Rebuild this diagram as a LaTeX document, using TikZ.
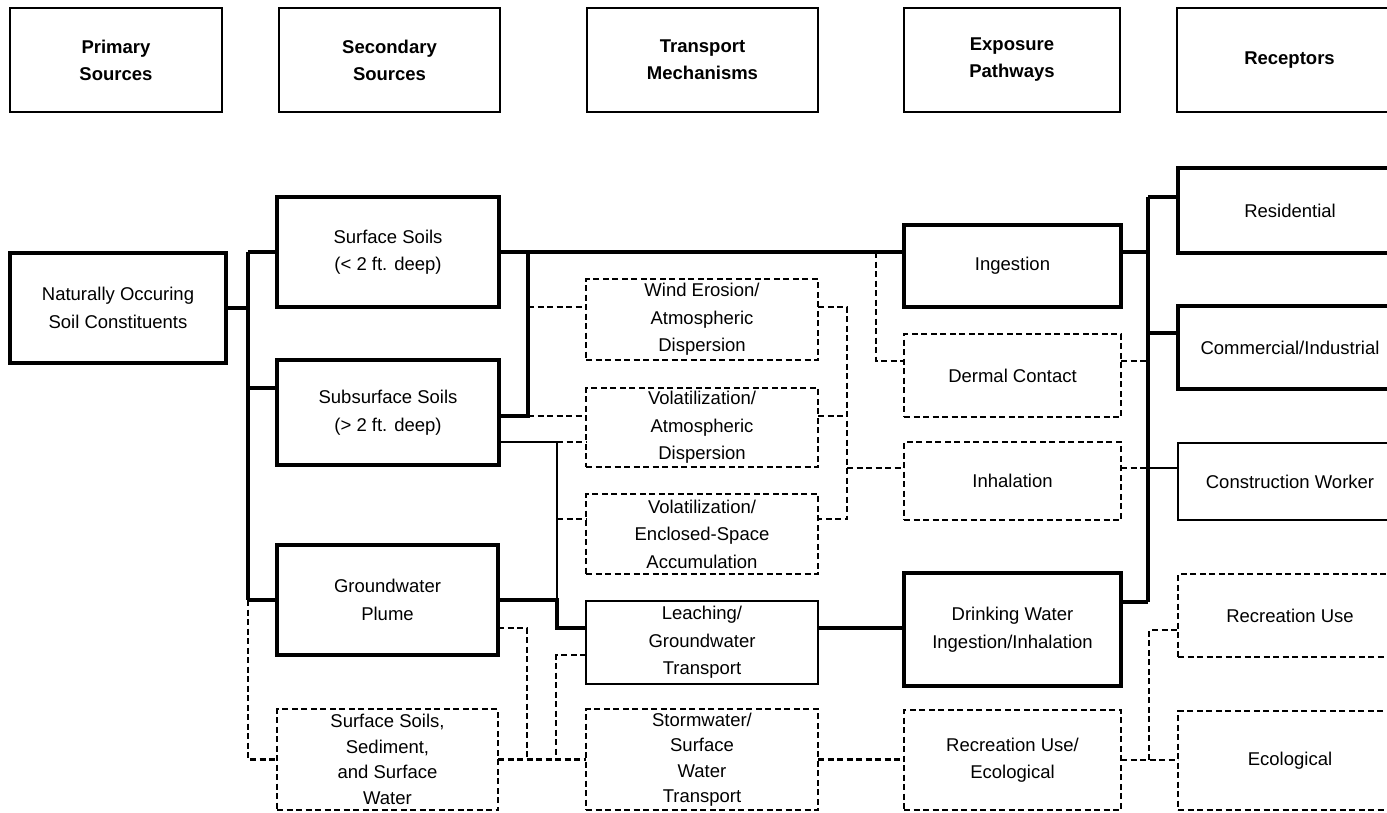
\documentclass[tikz,border=0pt]{standalone}
\usepackage{fontspec}
\setmainfont{Liberation Sans}
\begin{document}
\begin{tikzpicture}[x=1pt,y=-1pt,
  base/.style={rectangle,inner sep=0pt,outer sep=0pt,align=center,
    font=\fontsize{18.5}{27.5}\selectfont},
  hdr/.style={base,draw,line width=2pt,font=\fontsize{18.5}{27}\selectfont\bfseries},
  thickbox/.style={base,draw,line width=4.5pt},
  thinbox/.style={base,draw,line width=2pt},
  dashbox/.style={base,draw,line width=2.3pt,dash pattern=on 6pt off 3.5pt},
  four/.style={font=\fontsize{18.5}{25.5}\selectfont},
  thickline/.style={line width=4.5pt},
  thinline/.style={line width=2pt},
  dashline/.style={line width=2.3pt,dash pattern=on 6pt off 3.5pt}]
\useasboundingbox (0,0) rectangle (1387,813);
\clip (0,0) rectangle (1387,813);

% headers
\node[hdr,minimum width=212,minimum height=104] (hP) at (116,60) {Primary\\Sources};
\node[hdr,minimum width=221,minimum height=104] (hS) at (389.5,60) {Secondary\\Sources};
\node[hdr,minimum width=231,minimum height=104] (hT) at (702.5,60) {Transport\\Mechanisms};
\node[hdr,minimum width=216,minimum height=104] (hE) at (1012,60) {Exposure\\Pathways};
\node[hdr,minimum width=225,minimum height=104] (hR) at (1289.5,60) {Receptors};

% primary / secondary
\node[thickbox,minimum width=216,minimum height=110] (nat) at (118,308) {Naturally Occuring\\Soil Constituents};
\node[thickbox,minimum width=222,minimum height=110] (ss) at (388,252) {Surface Soils\\(< 2 ft. deep)};
\node[thickbox,minimum width=222,minimum height=105] (sub) at (388,412.5) {Subsurface Soils\\(> 2 ft. deep)};
\node[thickbox,minimum width=221,minimum height=110] (gw) at (387.5,600) {Groundwater\\Plume};
\node[dashbox,four,minimum width=221,minimum height=101] (sss) at (387.5,759.5) {Surface Soils,\\Sediment,\\and Surface\\Water};

% transport
\node[dashbox,minimum width=232,minimum height=81] (wind) at (702,319.5) {Wind Erosion/\\Atmospheric\\Dispersion};
\node[dashbox,minimum width=232,minimum height=79] (vatm) at (702,427.5) {Volatilization/\\Atmospheric\\Dispersion};
\node[dashbox,minimum width=232,minimum height=80] (vencl) at (702,534) {Volatilization/\\Enclosed-Space\\Accumulation};
\node[thinbox,minimum width=232,minimum height=83] (leach) at (702,642.5) {Leaching/\\Groundwater\\Transport};
\node[dashbox,four,minimum width=232,minimum height=101] (storm) at (702,759.5) {Stormwater/\\Surface\\Water\\Transport};

% exposure
\node[thickbox,minimum width=217,minimum height=82] (ing) at (1012.5,266) {Ingestion};
\node[dashbox,minimum width=217,minimum height=83] (derm) at (1012.5,375.5) {Dermal Contact};
\node[dashbox,minimum width=217,minimum height=78] (inh) at (1012.5,481) {Inhalation};
\node[thickbox,minimum width=217,minimum height=113] (drink) at (1012.5,629.5) {Drinking Water\\Ingestion/Inhalation};
\node[dashbox,minimum width=217,minimum height=100] (receco) at (1012.5,760) {Recreation Use/\\Ecological};

% receptors
\node[thickbox,minimum width=224,minimum height=85] (res) at (1290,210.5) {Residential};
\node[thickbox,minimum width=224,minimum height=83] (com) at (1290,347.5) {Commercial/Industrial};
\node[thinbox,minimum width=224,minimum height=77] (con) at (1290,481.5) {Construction Worker};
\node[dashbox,minimum width=224,minimum height=83] (recu) at (1290,615.5) {Recreation Use};
\node[dashbox,minimum width=224,minimum height=99] (eco) at (1290,760.5) {Ecological};

% junction coordinates
\coordinate (b1top) at (248,252);
\coordinate (b1sub) at (248,388);
\coordinate (b1gw) at (248,600);
\coordinate (b1bot) at (248,759.5);
\coordinate (j1) at (528,252);
\coordinate (j1w) at (528,307);
\coordinate (j1b) at (528,416);
\coordinate (j2) at (557,442);
\coordinate (j2e) at (557,519);
\coordinate (j2b) at (557,600);
\coordinate (lj) at (557,628);
\coordinate (g1) at (527,628);
\coordinate (g2) at (527,759.5);
\coordinate (h1) at (556,655);
\coordinate (h2) at (556,759.5);
\coordinate (k1) at (847,307);
\coordinate (k2) at (847,416);
\coordinate (k3) at (847,468);
\coordinate (k4) at (847,519);
\coordinate (m1) at (876,252);
\coordinate (m2) at (876,361);
\coordinate (n1) at (1148,197);
\coordinate (n2) at (1148,333);
\coordinate (n5) at (1148,602);
\coordinate (p1) at (1149,760);
\coordinate (p2) at (1149,630);

% solid thick connectors
\draw[thickline] (nat.east) -- (nat.east -| b1top);
\draw[thickline] (b1top) -- (b1gw);
\draw[thickline] (b1top) -- (ss.west);
\draw[thickline] (b1sub) -- (sub.west |- b1sub);
\draw[thickline] (b1gw) -- (gw.west);
\draw[thickline] (ss.east) -- (ing.west |- ss.east);
\draw[thickline] (j1) -- (j1b) -- (sub.east |- j1b);
\draw[thickline] (gw.east) -- (j2b) -- (lj) -- (leach.west |- lj);
\draw[thickline] (leach.east |- lj) -- (drink.west |- lj);
\draw[thickline] (ing.east |- m1) -- (m1 -| n1);
\draw[thickline] (n1) -- (n5);
\draw[thickline] (n1) -- (res.west |- n1);
\draw[thickline] (n2) -- (com.west |- n2);
\draw[thickline] (drink.east |- n5) -- (n5);

% thin solid connectors
\draw[thinline] (sub.east |- j2) -- (j2) -- (j2b);
\draw[thinline] (k3 -| n1) -- (con.west |- k3);

% dashed connectors
\draw[dashline] (j1w) -- (wind.west |- j1w);
\draw[dashline] (j1b) -- (vatm.west |- j1b);
\draw[dashline] (j2) -- (vatm.west |- j2);
\draw[dashline] (j2e) -- (vencl.west |- j2e);
\draw[dashline] (wind.east |- k1) -- (k1) -- (k4) -- (vencl.east |- k4);
\draw[dashline] (vatm.east |- k2) -- (k2);
\draw[dashline] (k3) -- (inh.west |- k3);
\draw[dashline] (m1) -- (m2) -- (derm.west |- m2);
\draw[dashline] (derm.east |- m2) -- (m2 -| n1);
\draw[dashline] (inh.east |- k3) -- (k3 -| n1);
\draw[dashline] (b1gw) -- (b1bot) -- (sss.west);
\draw[dashline] (gw.east |- g1) -- (g1) -- (g2);
\draw[dashline] (sss.east) -- (storm.west);
\draw[dashline] (leach.west |- h1) -- (h1) -- (h2);
\draw[dashline] (storm.east) -- (receco.west |- storm.east);
\draw[dashline] (receco.east) -- (eco.west |- receco.east);
\draw[dashline] (p1) -- (p2) -- (recu.west |- p2);
\end{tikzpicture}
\end{document}
